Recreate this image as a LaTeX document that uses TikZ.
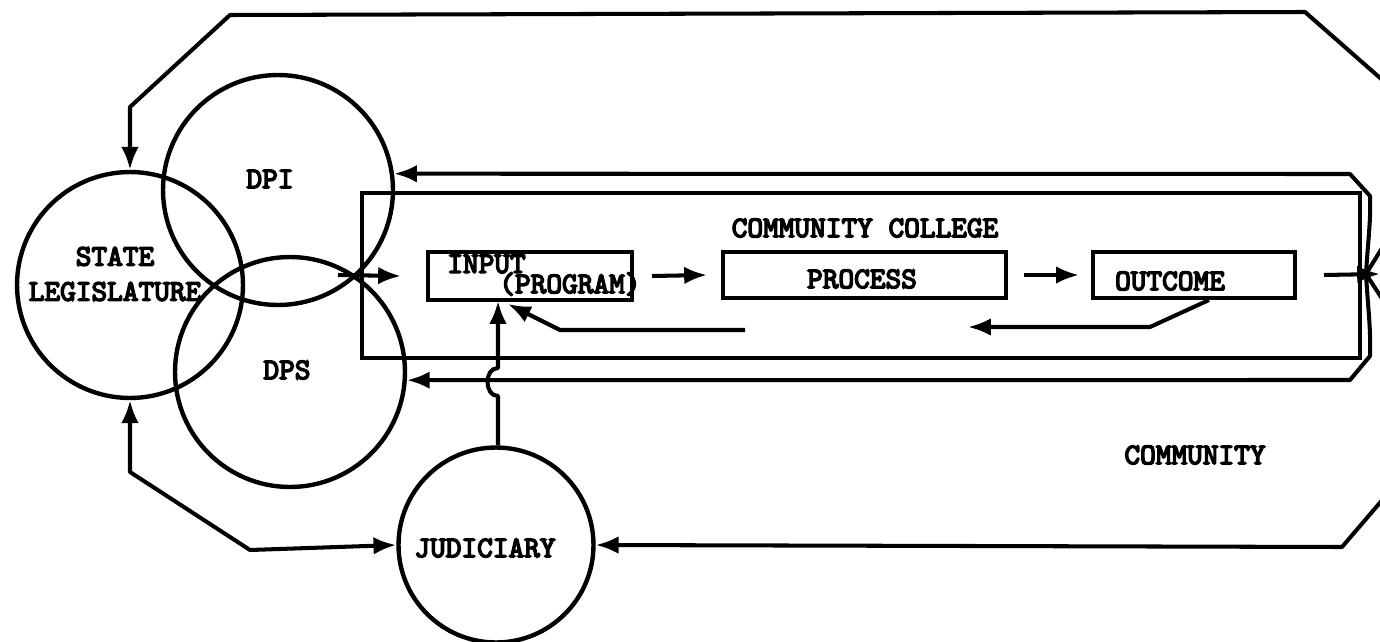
\documentclass[tikz,border=0pt]{standalone}
\usepackage{fontspec}
\usetikzlibrary{arrows.meta,calc}
\newfontfamily\lbmono[Extension=.otf, FakeBold=5]{lmmono10-regular}
\newcommand{\lblfont}{\fontsize{17}{19}\selectfont\lbmono}
\tikzset{
  ln/.style={line width=2.3pt, line join=round},
  arr/.style={-{Latex[length=13pt,width=10pt]}},
  darr/.style={{Latex[length=13pt,width=10pt]}-{Latex[length=13pt,width=10pt]}},
  circ/.style={circle, draw, line width=2.5pt, inner sep=0pt},
  boxn/.style={rectangle, draw, line width=2.3pt, inner sep=0pt},
  lbl/.style={font=\lblfont, inner sep=0pt, align=center},
}
\begin{document}
\begin{tikzpicture}[x=0.02cm,y=-0.02cm]
\useasboundingbox (0,0) rectangle (1380,642);
\clip (0,0) rectangle (1380,642);
\fill[white] (0,0) rectangle (1380,642);

% circles
\node[circ, minimum size=4.52cm] (sl)  at (130,285) {};
\node[circ, minimum size=4.60cm] (dpi) at (278,190) {};
\node[circ, minimum size=4.60cm] (dps) at (290,372) {};
\node[circ, minimum size=3.90cm] (jud) at (496,545) {};
\node[lbl] (sltxt) at (115,274) {STATE\\[1pt]LEGISLATURE};
\node[lbl] (dpitxt) at (270,179) {DPI};
\node[lbl] (dpstxt) at (287,370) {DPS};
\node[lbl] (judtxt) at (485,548) {JUDICIARY};

% community college
\node[boxn, minimum width=19.96cm, minimum height=3.30cm] (cc) at (861,275.5) {};
\node[lbl] (cctxt) at (865,228) {COMMUNITY COLLEGE};
\node[boxn, minimum width=4.08cm, minimum height=0.96cm] (inbox) at (530,276) {};
\node[lbl, anchor=west] (intxt) at (447,264) {INPUT};
\node[lbl, anchor=west] (prtxt) at (499,284) {(PROGRAM)};
\node[boxn, minimum width=5.66cm, minimum height=0.92cm] (procbox) at (864.5,275) {};
\node[lbl] (proctxt) at (862,279) {PROCESS};
\node[boxn, minimum width=4.04cm, minimum height=0.92cm] (outbox) at (1194,275) {};
\node[lbl] (outtxt) at (1170,281) {OUTCOME};
\node[lbl] (comtxt) at (1195,455) {COMMUNITY};

% internal flow
\draw[ln,arr] ($(inbox.east)+(18,0)$) -- ($(procbox.west)+(-14,0)$);
\draw[ln,arr] ($(procbox.east)+(16,0)$) -- ($(outbox.west)+(-12,0)$);
\coordinate (fan) at (1366,274);
\draw[ln,arr] ($(outbox.east)+(27,0)$) -- ($(fan)+(14,0)$);
\draw[ln,arr] ($(outbox.south)+(15,0)$) -- (1150,327) -- (968,327);
\coordinate (fb2) at (745,330);
\draw[ln,arr] (fb2) -- (560,330) -- ($(inbox.south)+(-22,2)$);

% judiciary to input with jump
\draw[ln,arr] (jud.north -| 498,0) -- (498,396) .. controls (484,396) and (484,368) .. (498,368) -- (498,301);

% left arrow into college
\coordinate (x0) at (338,275);
\draw[ln,arr] (x0) -- ($(inbox.west)+(-25,0)$);

% fan lines
\draw[ln] (fan) -- (1392,232);
\draw[ln] (fan) -- (1392,314);
% upper feedback
\draw[ln,arr] (fan) .. controls (1368,240) and (1371,220) .. (1370,196) -- (1350,174) -- (dpi.8);
% lower feedback
\draw[ln,arr] (fan) .. controls (1368,308) and (1371,330) .. (1370,356) -- (1350,380) -- (dps.-4);

% top loop
\draw[ln,arr] (1420,113) -- (1305,12) -- (230,15) -- (130,107) -- (sl.north);
% bottom loop
\draw[ln,arr] (1420,456) -- (1342,547) -- (jud.east);
% legislature - judiciary
\draw[ln,darr] (sl.south) -- (130,472) -- (250,550) -- (jud.west);
\end{tikzpicture}
\end{document}
